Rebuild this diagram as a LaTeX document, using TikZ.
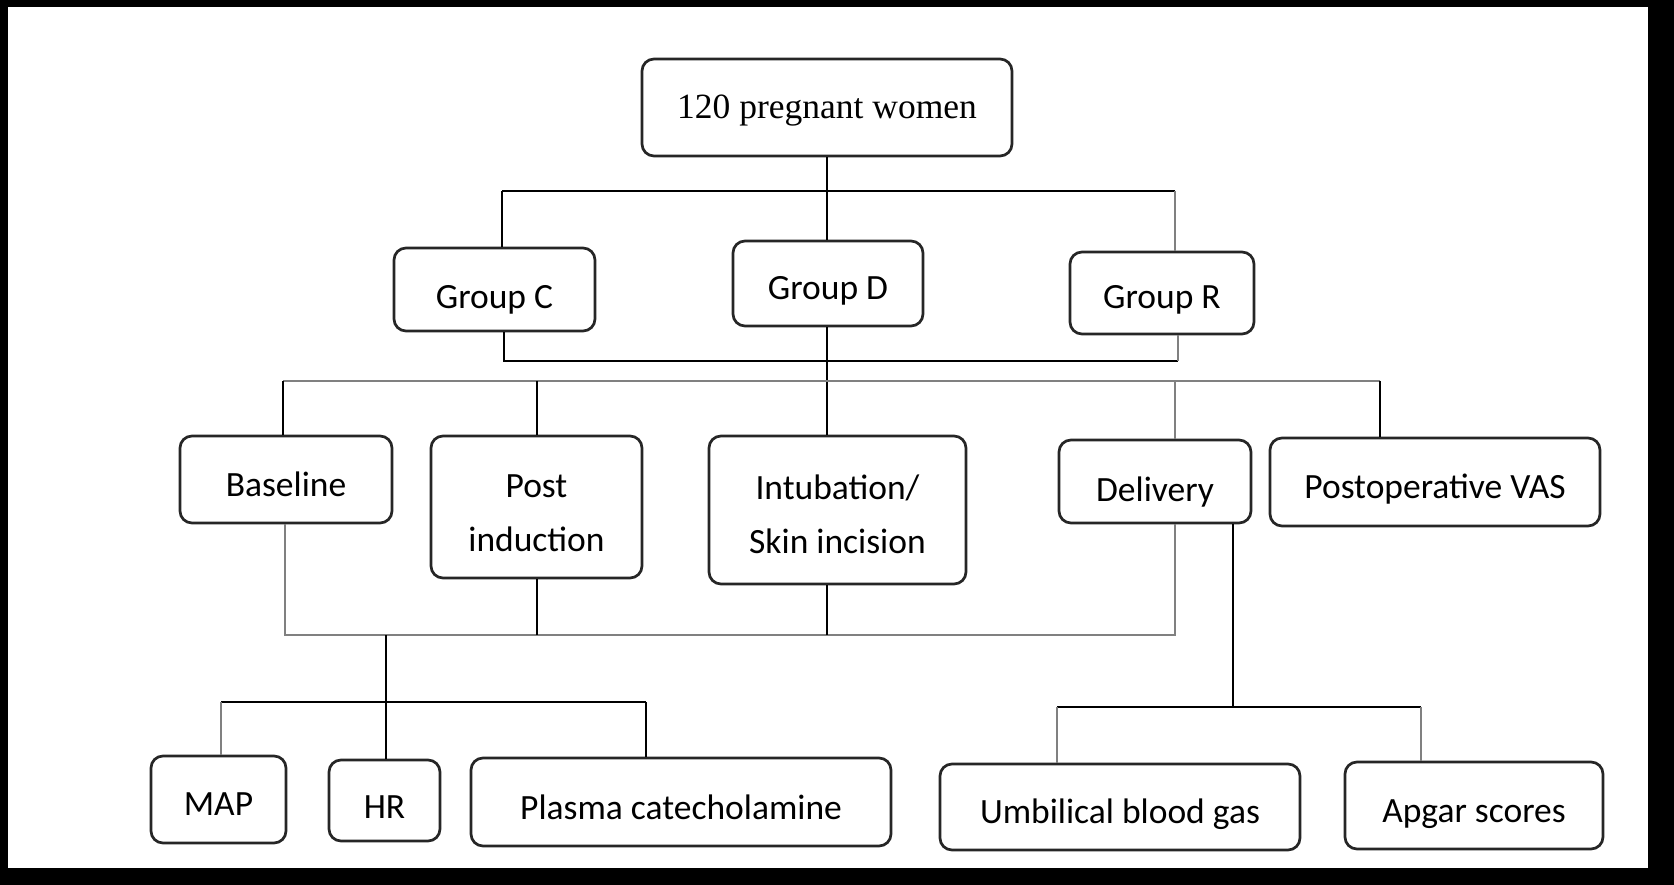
\documentclass[tikz,border=0pt]{standalone}
\usepackage{fontspec}
\setmainfont{Carlito}
\newfontfamily\serifft{Liberation Serif}
\newcommand\dn[2]{\raisebox{-#1}[\height][\depth]{#2}}
\newcommand\twol[2]{\begin{tabular}{@{}c@{}}#1\\#2\end{tabular}}
\begin{document}
\begin{tikzpicture}[x=1pt,y=-1pt,
  box/.style={draw=black!85, line width=2.7pt, rounded corners=12pt, fill=white,
    inner sep=0pt, font=\fontsize{35.5}{54}\selectfont},
  conn/.style={line width=2.6pt, black},
  gconn/.style={line width=2.6pt, black!50}]
% canvas
\fill[white] (0,0) rectangle (1674,885);
\useasboundingbox (0,0) rectangle (1674,885);
\fill[black] (0,0) rectangle (1674,7);
\fill[black] (0,0) rectangle (8,885);
\fill[black] (1648,0) rectangle (1674,885);
\fill[black] (0,868) rectangle (1674,885);

% nodes
\node[box, minimum width=370pt, minimum height=97pt, font=\serifft\fontsize{35.5}{40}\selectfont] (top) at (827,107.5) {\dn{3.5pt}{120 pregnant women}};
\node[box, minimum width=201pt, minimum height=83pt] (gC) at (494.5,289.5) {\dn{10pt}{Group C}};
\node[box, minimum width=190pt, minimum height=85pt] (gD) at (828,283.5) {\dn{7pt}{Group D}};
\node[box, minimum width=184pt, minimum height=82pt] (gR) at (1162,293) {\dn{6.5pt}{Group R}};

\node[box, minimum width=212pt, minimum height=87pt] (base) at (286,479.5) {\dn{4.5pt}{Baseline}};
\node[box, minimum width=211pt, minimum height=142pt] (post) at (536.5,507) {\dn{7pt}{\twol{Post}{induction}}};
\node[box, minimum width=257pt, minimum height=148pt] (intub) at (837.5,510) {\dn{6pt}{\twol{Intubation/}{Skin incision}}};
\node[box, minimum width=192pt, minimum height=83pt] (deliv) at (1155,481.5) {\dn{11pt}{Delivery}};
\node[box, minimum width=330pt, minimum height=88pt] (vas) at (1435,482) {\dn{7.5pt}{Postoperative VAS}};

\node[box, minimum width=135pt, minimum height=87pt] (map) at (218.5,799.5) {\dn{4.5pt}{MAP}};
\node[box, minimum width=111pt, minimum height=81pt] (hr) at (384.5,800.5) {\dn{7pt}{HR}};
\node[box, minimum width=420pt, minimum height=88pt] (plasma) at (681,802) {\dn{5pt}{Plasma catecholamine}};
\node[box, minimum width=360pt, minimum height=86pt] (umb) at (1120,807) {\dn{7pt}{Umbilical blood gas}};
\node[box, minimum width=258pt, minimum height=87pt] (apgar) at (1474,805.5) {\dn{8.5pt}{Apgar scores}};

% coordinates of junctions
\coordinate (aL) at (502,191);
\coordinate (aR) at (1175,191);
\coordinate (bL) at (504,361);
\coordinate (bR) at (1178,361);
\coordinate (cL) at (283,381);
\coordinate (cR) at (1380,381);
\coordinate (c2) at (537,381);
\coordinate (c4) at (1175,381);
\coordinate (dL) at (285,635);
\coordinate (d2) at (537,635);
\coordinate (d3) at (827,635);
\coordinate (dR) at (1175,635);
\coordinate (dH) at (386,635);
\coordinate (eL) at (221,702);
\coordinate (eR) at (646,702);
\coordinate (fT) at (1233,523);
\coordinate (fM) at (1233,707);
\coordinate (fL) at (1057,707);
\coordinate (fR) at (1421,707);

% level 1
\draw[conn] (top.south) -- (top.south |- gD.north);
\draw[conn] (aL) -- (aR);
\draw[conn] (aL) -- (aL |- gC.north);
\draw[gconn] (aR) -- (aR |- gR.north);
% bracket under groups
\draw[conn] (bL |- gC.south) -- (bL) -- (bR);
\draw[gconn] (bR) -- (bR |- gR.south);
\draw[conn] (gD.south -| top.south) -- (top.south |- intub.north);
% level 2
\draw[gconn] (cL) -- (cR);
\draw[conn] (cL) -- (cL |- base.north);
\draw[conn] (c2) -- (c2 |- post.north);
\draw[gconn] (c4) -- (c4 |- deliv.north);
\draw[conn] (cR) -- (cR |- vas.north);
% bracket under level 2
\draw[gconn] (dL |- base.south) -- (dL) -- (dR) -- (dR |- deliv.south);
\draw[conn] (d2 |- post.south) -- (d2);
\draw[conn] (d3 |- intub.south) -- (d3);
% measurements
\draw[conn] (dH) -- (dH |- hr.north);
\draw[conn] (eL) -- (eR);
\draw[gconn] (eL) -- (eL |- map.north);
\draw[conn] (eR) -- (eR |- plasma.north);
% delivery outcomes
\draw[conn] (fT |- deliv.south) -- (fM);
\draw[conn] (fL) -- (fR);
\draw[gconn] (fL) -- (fL |- umb.north);
\draw[gconn] (fR) -- (fR |- apgar.north);
\end{tikzpicture}
\end{document}
